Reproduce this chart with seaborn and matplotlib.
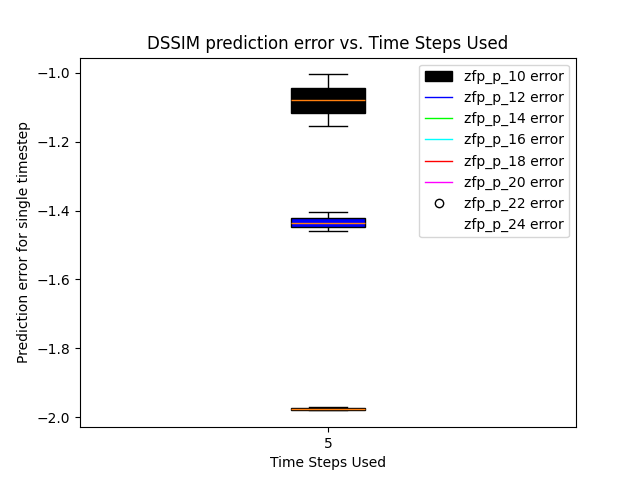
import matplotlib
matplotlib.use("Agg")
import matplotlib.pyplot as plt
import seaborn as sns
from matplotlib.patches import Patch
from matplotlib.lines import Line2D

# five-number summaries: [low whisker, q1, median, q3, high whisker]
p10 = [-1.155, -1.118, -1.080, -1.045, -1.005]
p12 = [-1.458, -1.447, -1.435, -1.422, -1.405]
p14 = [-1.980, -1.978, -1.975, -1.972, -1.970]
box_colors = ["black", "blue", "lime"]
labels = ["zfp_p_10 error", "zfp_p_12 error", "zfp_p_14 error", "zfp_p_16 error",
          "zfp_p_18 error", "zfp_p_20 error", "zfp_p_22 error", "zfp_p_24 error"]

fig, ax = plt.subplots(figsize=(6.4, 4.8), dpi=100)
for vals, c in zip([p10, p12, p14], box_colors):
    sns.boxplot(y=vals, ax=ax, color=c, saturation=1, width=0.15, whis=10,
                linecolor="black", linewidth=1,
                medianprops=dict(color="#ff7f0e"))
ax.set_xlim(-0.5, 0.5)
ax.set_xticks([0])
ax.set_xticklabels(["5"])
ax.set_yticks([-2.0, -1.8, -1.6, -1.4, -1.2, -1.0])
ax.set_title("DSSIM prediction error vs. Time Steps Used")
ax.set_xlabel("Time Steps Used")
ax.set_ylabel("Prediction error for single timestep")

handles = [Patch(facecolor="black", edgecolor="black"),
           Line2D([], [], color="blue", lw=1),
           Line2D([], [], color="lime", lw=1),
           Line2D([], [], color="cyan", lw=1),
           Line2D([], [], color="red", lw=1),
           Line2D([], [], color="magenta", lw=1),
           Line2D([], [], color="black", marker="o", ls="none", mfc="none"),
           Line2D([], [], color="none")]
ax.legend(handles, labels, loc="upper right")
fig.savefig("out.png")
